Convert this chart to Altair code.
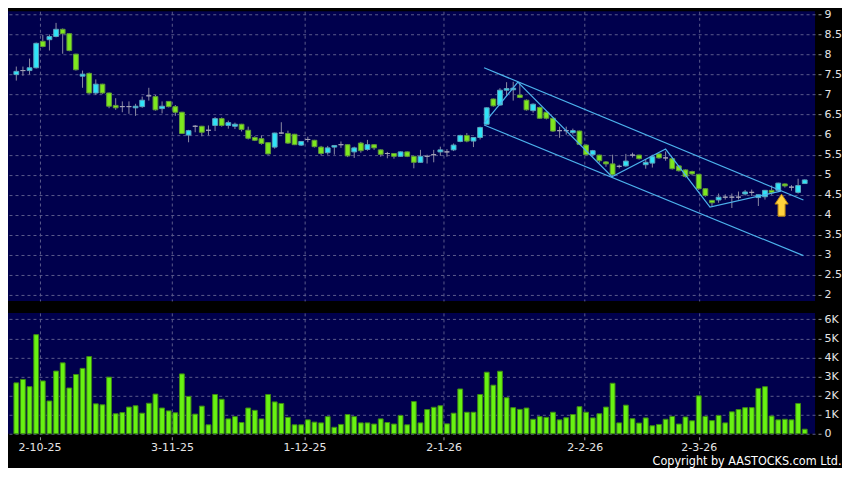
import altair as alt
import pandas as pd
import numpy as np

# ---- candlestick data (bar index 0..119) ----
open_ = [7.50, 7.60, 7.60, 7.67, 8.33, 8.37, 8.45, 8.63, 8.52, 8.01,
         7.46, 7.53, 7.04, 7.26, 7.04, 6.73, 6.70, 6.70, 6.67, 6.70,
         6.97, 6.95, 6.65, 6.83, 6.70, 6.56, 5.99, 6.21, 6.21, 6.11,
         6.23, 6.40, 6.23, 6.21, 6.26, 6.11, 5.93, 5.90, 5.80, 5.69,
         6.04, 6.03, 6.01, 5.74, 5.88, 5.86, 5.69, 5.55, 5.69, 5.75,
         5.75, 5.57, 5.79, 5.63, 5.75, 5.62, 5.53, 5.53, 5.46, 5.57,
         5.46, 5.31, 5.46, 5.50, 5.57, 5.57, 5.62, 5.83, 5.98, 5.84,
         5.93, 6.26, 6.89, 6.74, 7.11, 7.12, 6.99, 6.86, 6.60, 6.68,
         6.56, 6.41, 6.10, 6.10, 6.05, 6.09, 5.74, 5.50, 5.49, 5.32,
         5.27, 5.21, 5.22, 5.49, 5.49, 5.25, 5.29, 5.52, 5.42, 5.40,
         5.22, 5.12, 5.08, 5.01, 4.65, 4.36, 4.37, 4.44, 4.44, 4.44,
         4.52, 4.56, 4.43, 4.45, 4.61, 4.61, 4.77, 4.69, 4.56, 4.78]
high = [7.70, 7.70, 7.90, 8.30, 8.49, 8.50, 8.79, 8.65, 8.53, 8.02,
        7.60, 7.55, 7.38, 7.27, 7.05, 6.91, 6.83, 6.83, 6.77, 6.95,
        7.17, 6.99, 6.83, 6.84, 6.74, 6.57, 6.12, 6.24, 6.22, 6.23,
        6.44, 6.43, 6.35, 6.30, 6.27, 6.20, 5.96, 5.98, 5.81, 6.05,
        6.31, 6.10, 6.02, 5.84, 5.95, 5.87, 5.72, 5.72, 5.74, 5.83,
        5.76, 5.70, 5.82, 5.87, 5.76, 5.63, 5.57, 5.54, 5.58, 5.58,
        5.47, 5.62, 5.50, 5.62, 5.70, 5.64, 5.78, 6.00, 6.04, 5.94,
        6.20, 6.68, 6.90, 7.16, 7.31, 7.32, 7.30, 6.88, 6.78, 6.70,
        6.58, 6.42, 6.20, 6.20, 6.15, 6.10, 5.76, 5.62, 5.50, 5.34,
        5.50, 5.25, 5.52, 5.55, 5.50, 5.39, 5.50, 5.53, 5.58, 5.42,
        5.24, 5.13, 5.10, 5.02, 4.66, 4.37, 4.53, 4.51, 4.53, 4.58,
        4.62, 4.63, 4.50, 4.62, 4.73, 4.80, 4.78, 4.74, 4.90, 4.88]
low = [7.35, 7.47, 7.50, 7.65, 8.18, 8.10, 8.43, 8.02, 8.08, 7.60,
       7.17, 7.02, 6.99, 7.02, 6.66, 6.62, 6.56, 6.52, 6.47, 6.67,
       6.85, 6.60, 6.53, 6.68, 6.47, 6.02, 5.81, 6.06, 5.96, 5.98,
       6.09, 6.20, 6.15, 6.14, 6.08, 5.88, 5.84, 5.75, 5.50, 5.65,
       6.02, 5.77, 5.74, 5.72, 5.81, 5.68, 5.48, 5.50, 5.50, 5.67,
       5.44, 5.42, 5.55, 5.60, 5.62, 5.45, 5.41, 5.40, 5.45, 5.44,
       5.16, 5.30, 5.28, 5.31, 5.47, 5.45, 5.59, 5.81, 5.81, 5.69,
       5.88, 6.25, 6.70, 6.72, 6.97, 6.85, 6.91, 6.60, 6.55, 6.40,
       6.38, 6.07, 5.92, 6.00, 6.00, 5.74, 5.49, 5.45, 5.30, 5.20,
       4.95, 5.16, 5.20, 5.43, 5.38, 5.15, 5.18, 5.40, 5.35, 5.13,
       5.08, 4.93, 4.98, 4.62, 4.45, 4.22, 4.30, 4.38, 4.17, 4.38,
       4.48, 4.47, 4.22, 4.38, 4.50, 4.58, 4.68, 4.60, 4.53, 4.77]
close = [7.58, 7.60, 7.67, 8.28, 8.20, 8.45, 8.63, 8.52, 8.10, 7.62,
         7.51, 7.04, 7.26, 7.04, 6.71, 6.67, 6.70, 6.70, 6.71, 6.86,
         6.97, 6.62, 6.71, 6.70, 6.56, 6.03, 6.10, 6.21, 6.06, 6.11,
         6.40, 6.23, 6.30, 6.26, 6.13, 5.91, 5.86, 5.78, 5.52, 6.04,
         6.04, 5.79, 5.75, 5.83, 5.88, 5.70, 5.53, 5.67, 5.73, 5.75,
         5.47, 5.67, 5.60, 5.75, 5.67, 5.51, 5.53, 5.46, 5.57, 5.46,
         5.31, 5.46, 5.46, 5.50, 5.62, 5.57, 5.74, 5.98, 5.84, 5.93,
         6.18, 6.67, 6.72, 7.11, 7.15, 7.16, 6.93, 6.62, 6.76, 6.41,
         6.41, 6.09, 6.10, 6.10, 6.10, 5.76, 5.50, 5.60, 5.35, 5.27,
         5.00, 5.21, 5.34, 5.49, 5.40, 5.31, 5.45, 5.42, 5.42, 5.15,
         5.10, 4.96, 5.02, 4.65, 4.48, 4.30, 4.44, 4.44, 4.44, 4.44,
         4.57, 4.56, 4.50, 4.61, 4.55, 4.79, 4.72, 4.69, 4.73, 4.87]
volume_k = [2.67, 2.85, 2.47, 5.20, 2.77, 1.72, 3.29, 3.72, 2.40, 3.11,
            3.43, 4.05, 1.57, 1.52, 2.97, 1.05, 1.11, 1.40, 1.47, 1.08,
            1.60, 2.08, 1.35, 1.20, 1.10, 3.14, 1.96, 1.03, 1.45, 0.47,
            2.06, 1.81, 0.78, 0.90, 0.59, 1.35, 1.23, 0.78, 2.06, 1.67,
            1.59, 0.86, 0.47, 0.47, 0.73, 0.61, 0.57, 0.90, 0.34, 0.49,
            1.01, 0.90, 0.57, 0.57, 0.51, 0.78, 0.59, 0.51, 0.96, 0.47,
            1.69, 0.57, 1.27, 1.39, 1.47, 0.52, 1.08, 2.35, 1.13, 1.13,
            2.06, 3.23, 2.55, 3.28, 1.89, 1.37, 1.28, 1.35, 0.76, 0.90,
            0.86, 1.13, 0.73, 0.84, 1.01, 1.42, 1.13, 0.83, 1.05, 1.40,
            2.65, 0.57, 1.50, 0.79, 0.56, 0.83, 0.42, 0.49, 0.76, 0.91,
            0.51, 0.88, 0.68, 1.99, 0.91, 0.69, 0.96, 0.57, 1.15, 1.27,
            1.37, 1.37, 2.38, 2.47, 0.93, 0.73, 0.76, 0.73, 1.59, 0.24]

# ---- axis ticks ----
tick_pos = [3.5, 23.5, 43.5, 64.5, 85.8, 103]
tick_labels = ["2-10-25", "3-11-25", "1-12-25", "2-1-26", "2-2-26", "2-3-26"]
price_ticks = [2, 2.5, 3, 3.5, 4, 4.5, 5, 5.5, 6, 6.5, 7, 7.5, 8, 8.5, 9]
vol_ticks = [0, 1000, 2000, 3000, 4000, 5000, 6000]

# ---- drawn channel / zigzag (bar index, price) ----
upper_i = [70.6, 118.8]
upper_p = [7.67, 4.37]
lower_i = [70.6, 118.8]
lower_p = [6.24, 2.98]
zig_i = [70.6, 75.7, 89.9, 98.0, 104.7, 115.4]
zig_p = [6.28, 7.31, 4.95, 5.64, 4.19, 4.59]
arrow_i = [115.5]
arrow_p = [4.24]

n = len(close)
o = np.array(open_)
c = np.array(close)
df = pd.DataFrame({
    "i": list(range(n)), "open": open_, "high": high, "low": low, "close": close,
    "dir": np.where(c > o, "up", np.where(c < o, "down", "flat")),
})
vol_df = pd.DataFrame({"i": list(range(n)), "vol": [v * 1000 for v in volume_k]})
lines_df = pd.DataFrame({
    "i": upper_i + lower_i + zig_i,
    "p": upper_p + lower_p + zig_p,
    "id": ["upper"] * len(upper_i) + ["lower"] * len(lower_i) + ["zig"] * len(zig_i),
})
arrow_df = pd.DataFrame({"i": arrow_i, "p": arrow_p})

W = 808
HP = 290
HV = 121
GRID = "#5a5a8c"
LABEL = "#e6e6e6"
FONT = "DejaVu Sans"

xscale = alt.Scale(domain=[-0.5, 119.8], nice=False, zero=False)
label_expr = "[" + ",".join("'%s'" % t for t in tick_labels) + "][indexof([" + \
    ",".join(str(v) for v in tick_pos) + "], datum.value)]"

x_price = alt.X("i:Q", scale=xscale, axis=alt.Axis(
    values=tick_pos, grid=True, labels=False, ticks=False, domain=False, title=None,
    gridColor=GRID, gridDash=[3, 3], gridWidth=1))
yscale = alt.Scale(domain=[1.85, 9.08], nice=False, zero=False)
y_axis = alt.Axis(orient="right", values=price_ticks, format=".1~f", title=None,
                  grid=True, gridColor=GRID, gridDash=[3, 3], domain=False,
                  tickSize=3, offset=3, labelPadding=3, tickColor="#9a9a9a",
                  labelColor=LABEL, labelFont=FONT, labelFontSize=11, labelOverlap=False)

base = alt.Chart(df)
wicks = base.mark_rule(color="#8a8aa2", strokeWidth=1).encode(
    x=x_price,
    y=alt.Y("low:Q", scale=yscale, axis=y_axis),
    y2="high:Q",
)
bodies = base.mark_bar(size=4.8, strokeWidth=1).encode(
    x=x_price,
    y=alt.Y("open:Q", scale=yscale, axis=y_axis),
    y2="close:Q",
    fill=alt.Fill("dir:N", scale=alt.Scale(domain=["up", "down", "flat"],
                                           range=["#2fe4f8", "#7ee81e", "#a4a4b8"]), legend=None),
    stroke=alt.Stroke("dir:N", scale=alt.Scale(domain=["up", "down", "flat"],
                                               range=["#5aa4bc", "#5f9a38", "#a4a4b8"]), legend=None),
)
lines = alt.Chart(lines_df).mark_line(color="#4cb2ec", strokeWidth=1.2).encode(
    x=x_price,
    y=alt.Y("p:Q", scale=yscale, axis=y_axis),
    detail="id:N",
)
arrow_shape = "M0,-1 L0.6,-0.1 L0.32,-0.1 L0.32,1 L-0.32,1 L-0.32,-0.1 L-0.6,-0.1 Z"
arrow = alt.Chart(arrow_df).mark_point(
    shape=arrow_shape, filled=True, size=484, fill="#ffd23c", stroke="#b98512",
    strokeWidth=1, opacity=1,
).encode(
    x=x_price,
    y=alt.Y("p:Q", scale=yscale, axis=y_axis),
)
price = alt.layer(wicks, bodies, lines, arrow).properties(width=W, height=HP)

volume = alt.Chart(vol_df).mark_bar(size=4.8, fill="#68f212", stroke="#3d8a14", strokeWidth=1).encode(
    x=alt.X("i:Q", scale=xscale, axis=alt.Axis(
        values=tick_pos, labelExpr=label_expr, grid=True, gridColor=GRID, gridDash=[3, 3],
        domain=False, tickSize=3, offset=3, labelPadding=2, tickColor="#9a9a9a",
        labelColor=LABEL, labelFont=FONT, labelFontSize=11, title=None,
        labelFlush=False, labelOverlap=False)),
    y=alt.Y("vol:Q", scale=alt.Scale(domain=[0, 6340], nice=False), axis=alt.Axis(
        orient="right", values=vol_ticks, title=None, grid=True, gridColor=GRID,
        gridDash=[3, 3], domain=False, tickSize=3, offset=3, labelPadding=3,
        tickColor="#9a9a9a", labelColor=LABEL, labelFont=FONT, labelFontSize=11,
        labelOverlap=False,
        labelExpr="datum.value == 0 ? '0' : (datum.value / 1000) + 'K'")),
).properties(width=W, height=HV)

chart = alt.vconcat(price, volume, spacing=12).properties(
    background="#000000",
    padding=0,
    title=alt.TitleParams(
        text="Copyright by AASTOCKS.com Ltd.", orient="bottom", anchor="end",
        font="Liberation Sans Narrow, DejaVu Sans Condensed, DejaVu Sans",
        fontSize=12.5, fontWeight="normal", color="#ffffff", offset=2),
).configure_view(fill="#00004d", strokeWidth=0)

chart.save("out.html", embed_options={"renderer": "svg", "actions": False})
